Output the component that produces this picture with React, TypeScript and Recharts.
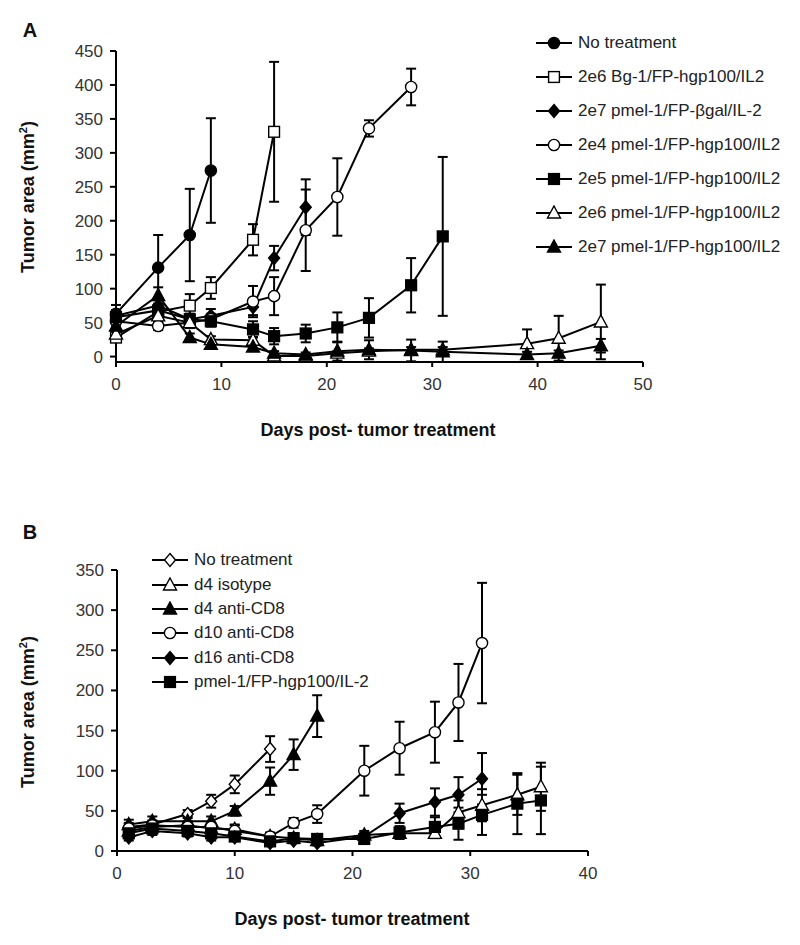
import React from 'react';
import { LineChart, Line, XAxis, YAxis, ErrorBar } from 'recharts';

const FONT = '"Liberation Sans", Arial, sans-serif';

// ---------- panel A data ----------
const aTicksX = [0, 10, 20, 30, 40, 50];
const aTicksY = [0, 50, 100, 150, 200, 250, 300, 350, 400, 450];

const aNoTreatDays = [0, 4, 7, 9];
const aNoTreatVals = [63, 131, 179, 274];
const aNoTreatErr = [13, 48, 68, 77];

const aBg1Days = [0, 4, 7, 9, 13, 15];
const aBg1Vals = [28, 66, 75, 101, 172, 331];
const aBg1Err = [5, 8, 17, 16, 23, 103];

const aBgalDays = [0, 4, 7, 9, 13, 15, 18];
const aBgalVals = [60, 75, 55, 60, 73, 145, 220];
const aBgalErr = [8, 10, 8, 10, 12, 18, 41];

const a2e4Days = [0, 4, 7, 9, 13, 15, 18, 21, 24, 28];
const a2e4Vals = [52, 45, 50, 55, 81, 89, 186, 235, 336, 397];
const a2e4Err = [8, 6, 8, 8, 23, 28, 60, 57, 12, 27];

const a2e5Days = [0, 4, 7, 9, 13, 15, 18, 21, 24, 28, 31];
const a2e5Vals = [58, 68, 55, 52, 40, 30, 34, 43, 57, 105, 177];
const a2e5Err = [10, 8, 8, 8, 12, 12, 13, 22, 29, 40, 117];

const a2e6Days = [0, 4, 7, 9, 13, 15, 18, 21, 24, 28, 31, 39, 42, 46];
const a2e6Vals = [33, 60, 50, 25, 24, 1, 1, 5, 8, 10, 10, 19, 27, 51];
const a2e6Err = [8, 10, 8, 5, 5, 2, 2, 3, 4, 4, 4, 21, 33, 55];

const a2e7Days = [0, 4, 7, 9, 13, 15, 18, 21, 24, 28, 31, 39, 42, 46];
const a2e7Vals = [45, 90, 28, 18, 14, 5, 3, 8, 10, 9, 7, 3, 5, 16];
const a2e7Err = [8, 12, 6, 5, 5, 3, 3, 14, 14, 16, 15, 4, 4, 10];

// ---------- panel B data ----------
const bTicksX = [0, 10, 20, 30, 40];
const bTicksY = [0, 50, 100, 150, 200, 250, 300, 350];

const bNoTreatDays = [1, 3, 6, 8, 10, 13];
const bNoTreatVals = [30, 33, 46, 62, 83, 127];
const bNoTreatErr = [5, 5, 5, 8, 11, 16];

const bIsoDays = [1, 3, 6, 8, 10, 13, 15, 17, 21, 24, 27, 29, 31, 34, 36];
const bIsoVals = [25, 30, 32, 28, 27, 18, 16, 13, 20, 22, 22, 48, 57, 70, 80];
const bIsoErr = [5, 5, 5, 5, 5, 4, 4, 4, 5, 6, 6, 15, 20, 25, 30];

const bD4Days = [1, 3, 6, 8, 10, 13, 15, 17];
const bD4Vals = [33, 37, 37, 37, 50, 87, 120, 168];
const bD4Err = [6, 6, 6, 6, 6, 17, 19, 26];

const bD10Days = [1, 3, 6, 8, 10, 13, 15, 17, 21, 24, 27, 29, 31];
const bD10Vals = [28, 32, 30, 30, 25, 18, 35, 46, 100, 128, 148, 185, 259];
const bD10Err = [5, 5, 5, 5, 8, 5, 6, 11, 31, 33, 38, 48, 75];

const bD16Days = [1, 3, 6, 8, 10, 13, 15, 17, 21, 24, 27, 29, 31];
const bD16Vals = [17, 25, 22, 17, 17, 10, 13, 10, 18, 47, 61, 70, 90];
const bD16Err = [4, 5, 4, 4, 4, 3, 3, 3, 5, 12, 17, 22, 32];

const bPmelDays = [1, 3, 6, 8, 10, 13, 15, 17, 21, 24, 27, 29, 31, 34, 36];
const bPmelVals = [22, 28, 25, 22, 18, 12, 16, 15, 15, 23, 30, 34, 45, 59, 63];
const bPmelErr = [4, 5, 5, 5, 4, 3, 4, 3, 4, 8, 12, 20, 25, 38, 42];

type Shape = 'circle' | 'square' | 'diamond' | 'triangle';

const rows = (days: number[], vals: number[], errs: number[]) =>
  days.map((d, i) => ({ day: d, v: vals[i], err: errs[i] }));

const seriesA = [
  { name: 'No treatment', shape: 'circle' as Shape, filled: true, data: rows(aNoTreatDays, aNoTreatVals, aNoTreatErr) },
  { name: '2e6 Bg-1/FP-hgp100/IL2', shape: 'square' as Shape, filled: false, data: rows(aBg1Days, aBg1Vals, aBg1Err) },
  { name: '2e7 pmel-1/FP-\u03b2gal/IL-2', shape: 'diamond' as Shape, filled: true, data: rows(aBgalDays, aBgalVals, aBgalErr) },
  { name: '2e4 pmel-1/FP-hgp100/IL2', shape: 'circle' as Shape, filled: false, data: rows(a2e4Days, a2e4Vals, a2e4Err) },
  { name: '2e5 pmel-1/FP-hgp100/IL2', shape: 'square' as Shape, filled: true, data: rows(a2e5Days, a2e5Vals, a2e5Err) },
  { name: '2e6 pmel-1/FP-hgp100/IL2', shape: 'triangle' as Shape, filled: false, data: rows(a2e6Days, a2e6Vals, a2e6Err) },
  { name: '2e7 pmel-1/FP-hgp100/IL2', shape: 'triangle' as Shape, filled: true, data: rows(a2e7Days, a2e7Vals, a2e7Err) },
];

const seriesB = [
  { name: 'No treatment', shape: 'diamond' as Shape, filled: false, data: rows(bNoTreatDays, bNoTreatVals, bNoTreatErr) },
  { name: 'd4 isotype', shape: 'triangle' as Shape, filled: false, data: rows(bIsoDays, bIsoVals, bIsoErr) },
  { name: 'd4 anti-CD8', shape: 'triangle' as Shape, filled: true, data: rows(bD4Days, bD4Vals, bD4Err) },
  { name: 'd10 anti-CD8', shape: 'circle' as Shape, filled: false, data: rows(bD10Days, bD10Vals, bD10Err) },
  { name: 'd16 anti-CD8', shape: 'diamond' as Shape, filled: true, data: rows(bD16Days, bD16Vals, bD16Err) },
  { name: 'pmel-1/FP-hgp100/IL-2', shape: 'square' as Shape, filled: true, data: rows(bPmelDays, bPmelVals, bPmelErr) },
];

function Marker({ cx, cy, shape, filled }: { cx: number; cy: number; shape: Shape; filled: boolean }) {
  const p = { fill: filled ? '#000' : '#fff', stroke: '#000', strokeWidth: 1.4 };
  if (cx == null || cy == null) return null;
  if (shape === 'circle') return <circle cx={cx} cy={cy} r={5.6} {...p} />;
  if (shape === 'square') return <rect x={cx - 5.4} y={cy - 5.4} width={10.8} height={10.8} {...p} />;
  if (shape === 'diamond')
    return <polygon points={`${cx},${cy - 6.5} ${cx + 5.5},${cy} ${cx},${cy + 6.5} ${cx - 5.5},${cy}`} {...p} />;
  return <polygon points={`${cx},${cy - 7} ${cx + 6.5},${cy + 5} ${cx - 6.5},${cy + 5}`} {...p} />;
}

const LegendBox = ({ items, left, top, gap }: any) => (
  <div style={{ position: 'absolute', left, top }}>
    {items.map((s: any) => (
      <div key={s.name} style={{ display: 'flex', alignItems: 'center', height: gap }}>
        <svg width={38} height={16} style={{ marginRight: 5 }}>
          <line x1={1} y1={8} x2={37} y2={8} stroke="#000" strokeWidth={2} />
          <Marker cx={19} cy={8} shape={s.shape} filled={s.filled} />
        </svg>
        <span style={{ fontSize: 17, color: '#222', whiteSpace: 'nowrap' }}>{s.name}</span>
      </div>
    ))}
  </div>
);

const axisStyle = { stroke: '#000', strokeWidth: 2 };
const tickStyle = { fontSize: 17, fill: '#333', fontFamily: FONT };

function Panel({ series, ticksX, ticksY, width, height, margin }: any) {
  return (
    <LineChart width={width} height={height} margin={margin}>
      <XAxis
        type="number"
        dataKey="day"
        domain={[ticksX[0], ticksX[ticksX.length - 1]]}
        ticks={ticksX}
        height={30}
        axisLine={axisStyle}
        tickLine={axisStyle}
        tickSize={5}
        tickMargin={11}
        tick={tickStyle}
        allowDuplicatedCategory={false}
      />
      <YAxis
        type="number"
        dataKey="v"
        domain={[ticksY[0], ticksY[ticksY.length - 1]]}
        ticks={ticksY}
        width={60}
        axisLine={axisStyle}
        tickLine={axisStyle}
        tickSize={6}
        tickMargin={7}
        tick={tickStyle}
      />
      {series.map((s: any) => (
        <Line
          key={s.name}
          data={s.data}
          dataKey="v"
          stroke="#000"
          strokeWidth={2}
          isAnimationActive={false}
          dot={(p: any) => (
            <Marker key={`${s.name}-${p.index}`} cx={p.cx} cy={p.cy} shape={s.shape} filled={s.filled} />
          )}
          activeDot={false}
        >
          <ErrorBar dataKey="err" direction="y" width={5} stroke="#000" strokeWidth={2} />
        </Line>
      ))}
    </LineChart>
  );
}

const titleStyle: React.CSSProperties = {
  position: 'absolute',
  fontWeight: 'bold',
  fontSize: 18,
  color: '#111',
  whiteSpace: 'nowrap',
  transform: 'translate(-50%, -50%)',
};

export default function App() {
  return (
    <div style={{ position: 'absolute', left: 0, top: 0, width: 800, height: 945, background: '#fff', fontFamily: FONT }}>
      <div style={{ position: 'absolute', left: 0, top: 0 }}>
        <Panel
          series={seriesA}
          ticksX={aTicksX}
          ticksY={aTicksY}
          width={800}
          height={460}
          margin={{ top: 51, right: 157, left: 56, bottom: 68 }}
        />
      </div>
      <div style={{ position: 'absolute', left: 0, top: 460 }}>
        <Panel
          series={seriesB}
          ticksX={bTicksX}
          ticksY={bTicksY}
          width={800}
          height={485}
          margin={{ top: 110, right: 212, left: 57, bottom: 64 }}
        />
      </div>

      <LegendBox items={seriesA} left={535} top={26} gap={34} />
      <LegendBox items={seriesB} left={151} top={548} gap={24.4} />

      <div style={{ ...titleStyle, left: 30, top: 30, fontSize: 20 }}>A</div>
      <div style={{ ...titleStyle, left: 30, top: 532, fontSize: 20 }}>B</div>

      <div style={{ ...titleStyle, left: 28, top: 197, transform: 'translate(-50%, -50%) rotate(-90deg)' }}>
        Tumor area (mm<sup style={{ fontSize: 11 }}>2</sup>)
      </div>
      <div style={{ ...titleStyle, left: 28, top: 712, transform: 'translate(-50%, -50%) rotate(-90deg)' }}>
        Tumor area (mm<sup style={{ fontSize: 11 }}>2</sup>)
      </div>

      <div style={{ ...titleStyle, left: 378, top: 430 }}>Days post- tumor treatment</div>
      <div style={{ ...titleStyle, left: 352, top: 919 }}>Days post- tumor treatment</div>
    </div>
  );
}
